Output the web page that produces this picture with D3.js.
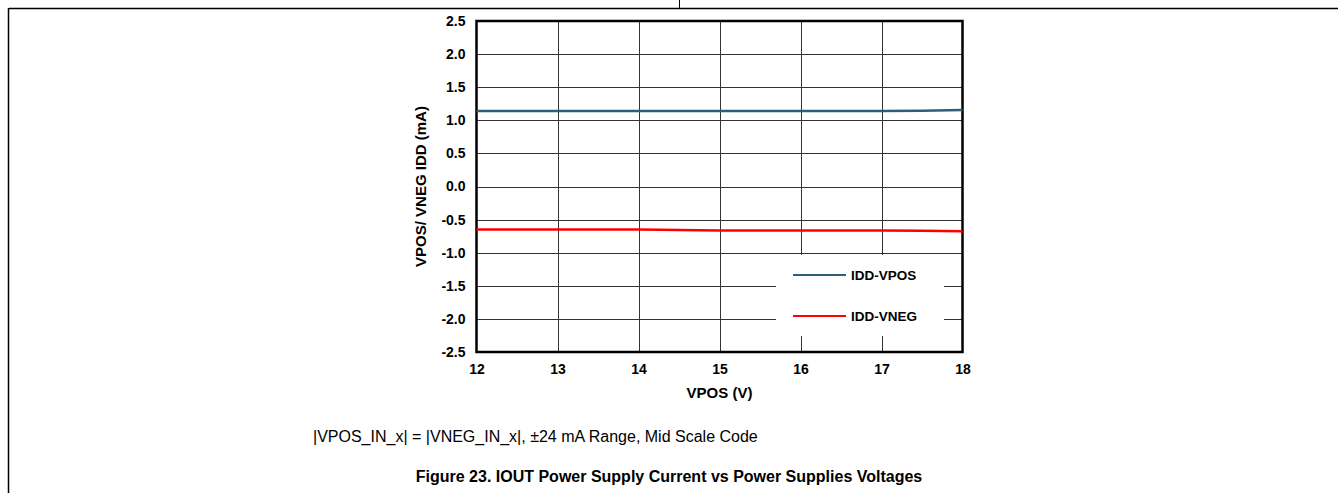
<!DOCTYPE html>
<html><head><meta charset="utf-8">
<script src="https://cdn.jsdelivr.net/npm/d3@7"></script>
<style>body{margin:0;background:#fff}svg{display:block}text{font-family:"Liberation Sans",Arial,sans-serif}</style>
</head><body>
<script>
const vpos = [12, 13, 14, 15, 16, 17, 17.5, 18];
const iddVpos = [1.14, 1.14, 1.14, 1.14, 1.14, 1.14, 1.145, 1.155];
const iddVneg = [-0.65, -0.65, -0.65, -0.665, -0.665, -0.665, -0.67, -0.675];
const xTicks = [12, 13, 14, 15, 16, 17, 18];
const yTicks = [-2.5, -2.0, -1.5, -1.0, -0.5, 0.0, 0.5, 1.0, 1.5, 2.0, 2.5];
const seriesNames = ["IDD-VPOS", "IDD-VNEG"];
const seriesColors = ["#2e5f7a", "#ff0000"];

const W = 1338, H = 493;
const svg = d3.select("body").append("svg").attr("width", W).attr("height", H);
const L = 476.5, R = 962.5, T = 21, B = 352;
const x = d3.scaleLinear().domain([12, 18]).range([L, R]);
const y = d3.scaleLinear().domain([-2.5, 2.5]).range([B, T]);

// page frame
svg.append("line").attr("x1", 9).attr("x2", W).attr("y1", 8.5).attr("y2", 8.5).attr("stroke", "#000").attr("stroke-width", 1.5);
svg.append("line").attr("x1", 8.5).attr("x2", 8.5).attr("y1", 8).attr("y2", H).attr("stroke", "#000").attr("stroke-width", 1.5);
svg.append("line").attr("x1", 679.5).attr("x2", 679.5).attr("y1", 0).attr("y2", 8).attr("stroke", "#000").attr("stroke-width", 1);

// grid
const g = svg.append("g");
g.selectAll("line.gx").data(xTicks.slice(1, -1)).join("line")
  .attr("x1", d => Math.round(x(d)) + 0.5).attr("x2", d => Math.round(x(d)) + 0.5)
  .attr("y1", T).attr("y2", B).attr("stroke", "#333").attr("stroke-width", 1);
g.selectAll("line.gy").data(yTicks.slice(1, -1)).join("line")
  .attr("y1", d => Math.round(y(d)) + 0.5).attr("y2", d => Math.round(y(d)) + 0.5)
  .attr("x1", L).attr("x2", R).attr("stroke", "#333").attr("stroke-width", 1);

// legend background
const legX = 776, legY = 255;
svg.append("rect").attr("x", legX).attr("y", legY).attr("width", 168).attr("height", 81).attr("fill", "#fff");

// axes via d3
const fmtY = d => d3.format(".1f")(d).replace("\u2212", "-");
const xAxis = svg.append("g").attr("transform", `translate(0,${B})`)
  .call(d3.axisBottom(x).tickValues(xTicks).tickSize(0).tickPadding(12).tickFormat(d3.format("d")));
const yAxis = svg.append("g").attr("transform", `translate(${L},0)`)
  .call(d3.axisLeft(y).tickValues(yTicks).tickSize(0).tickPadding(11).tickFormat(fmtY));
[xAxis, yAxis].forEach(a => {
  a.select(".domain").remove();
  a.selectAll("text").attr("font-size", 14).attr("font-weight", "bold").attr("fill", "#000")
    .attr("font-family", "'Liberation Sans', Arial, sans-serif");
});

// frame
svg.append("rect").attr("x", L).attr("y", T).attr("width", R - L).attr("height", B - T)
  .attr("fill", "none").attr("stroke", "#000").attr("stroke-width", 2.5);

// lines
const line = d3.line().x((d, i) => x(vpos[i])).y(d => y(d));
[iddVpos, iddVneg].forEach((s, k) => {
  svg.append("path").datum(s).attr("d", line).attr("fill", "none")
    .attr("stroke", seriesColors[k]).attr("stroke-width", 2.5);
});

// legend
seriesNames.forEach((n, k) => {
  const ly = 275 + k * 41;
  svg.append("line").attr("x1", 793).attr("x2", 846).attr("y1", ly).attr("y2", ly)
    .attr("stroke", seriesColors[k]).attr("stroke-width", 2);
  svg.append("text").attr("x", 851).attr("y", ly + 5).text(n)
    .attr("font-size", 13.5).attr("font-weight", "bold");
});

// axis titles
svg.append("text").attr("x", (L + R) / 2).attr("y", 398).attr("text-anchor", "middle")
  .attr("font-size", 15).attr("font-weight", "bold").text("VPOS (V)");
svg.append("text").attr("transform", `translate(426,${(T + B) / 2}) rotate(-90)`).attr("text-anchor", "middle")
  .attr("font-size", 15).attr("font-weight", "bold").text("VPOS/ VNEG IDD (mA)");

// caption
svg.append("text").attr("x", 313).attr("y", 442).attr("font-size", 16).text("|VPOS_IN_x| = |VNEG_IN_x|, ±24 mA Range, Mid Scale Code");
svg.append("text").attr("x", 669).attr("y", 482).attr("text-anchor", "middle").attr("font-size", 16)
  .attr("font-weight", "bold").text("Figure 23. IOUT Power Supply Current vs Power Supplies Voltages");
</script>
</body></html>
